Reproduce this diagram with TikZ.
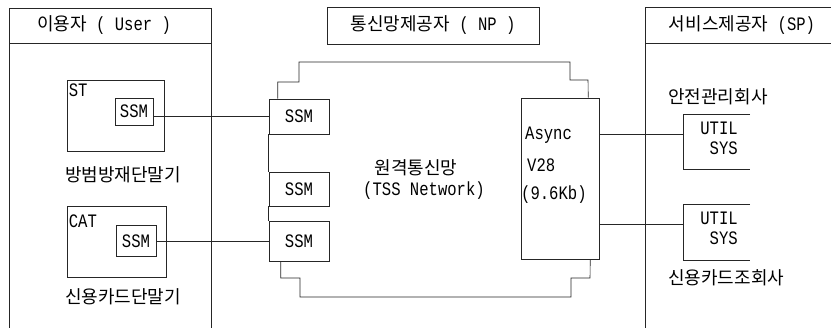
\documentclass[tikz,border=0pt]{standalone}
\usepackage{fontspec}
\setmainfont[FakeStretch=0.82]{Liberation Mono}
\newfontfamily\kr{Noto Sans CJK KR}
\newcommand{\hangul}[1]{{\kr\fontsize{18}{20}\selectfont #1}}
\usetikzlibrary{positioning}

\begin{document}
\begin{tikzpicture}[x=1pt, y=-1pt,
  wire/.style={draw=black!85, line width=0.6pt},
  box/.style={wire, inner sep=0pt},
  ssm/.style={wire, inner sep=0pt, font=\fontsize{19}{20}\selectfont},
  kor/.style={inner sep=0pt, font=\kr\fontsize{18}{20}\selectfont},
  tag/.style={inner sep=0pt, font=\fontsize{19}{20}\selectfont}]
  \useasboundingbox (0,0) rectangle (831,328);

  % user
  \draw[wire] (9,328) -- (9,8) -- (211,8) -- (211,328);
  \draw[wire] (9,43) -- (211,43);
  \node[tag] (userhd) at (104,25) {\hangul{이용자} ( User )};
  \node[box, minimum width=97pt, minimum height=71pt] (stbox) at (115.5,115.5) {};
  \node[tag, anchor=north west, xshift=2pt, yshift=-4pt] (stlbl) at (stbox.north west) {ST};
  \node[ssm, minimum width=38pt, minimum height=27pt] (ssmA) at (134,111.5) {SSM};
  \node[kor, anchor=west] (alarm) at (65,175) {방범방재단말기};
  \node[box, minimum width=99pt, minimum height=71pt] (catbox) at (116.5,241.5) {};
  \node[tag, anchor=north west, xshift=2pt, yshift=-9pt] (catlbl) at (catbox.north west) {CAT};
  \node[ssm, minimum width=40pt, minimum height=31pt] (ssmB) at (136,241) {SSM};
  \node[kor, anchor=west] (card) at (65,297) {신용카드단말기};

  % network provider
  \node[box, minimum width=212pt, minimum height=37pt, font=\fontsize{19}{20}\selectfont] (nphd) at (433,25.5) {\hangul{통신망제공자} ( NP )};
  \node[ssm, minimum width=60pt, minimum height=35pt] (netA) at (299,116.5) {SSM};
  \node[ssm, minimum width=60pt, minimum height=34pt] (netB) at (299,189) {SSM};
  \node[ssm, minimum width=60pt, minimum height=40pt] (netC) at (299,241) {SSM};
  \node[kor] (tssname) at (416,168) {원격통신망};
  \node[tag] (tsssub) at (424,191) {(TSS Network)};
  \node[box, minimum width=78pt, minimum height=161pt] (async) at (560,178.5) {};
  \node[tag, anchor=west] (asynclbl) at (525,135) {Async};
  \node[tag, anchor=west] (v28lbl) at (527,165) {V28};
  \node[tag, anchor=west] (ratelbl) at (521,195) {(9.6Kb)};
  \draw[wire] ([xshift=9pt]netA.north west) |- (299,82) |- (570,62) |- (588,80)
    -- ([xshift=-11pt]async.north east);
  \draw[wire] ([xshift=12pt]netC.south west) |- (300,278) |- (571,297) |- (590,278)
    -- ([xshift=-9pt]async.south east);
  \draw[wire] (netA.south west) -- (netB.north west);
  \draw[wire] (netB.south west) -- (netC.north west);

  % service provider
  \draw[wire] (645,328) -- (645,7) -- (831,7);
  \draw[wire] (645,43) -- (831,43);
  \node[tag] (sphd) at (742,25) {\hangul{서비스제공자} (SP)};
  \node[kor, anchor=west] (safety) at (668,97) {안전관리회사};
  \node[inner sep=0pt, minimum width=67pt, minimum height=54pt] (utilA) at (716.5,142) {};
  \node[tag, align=right] (utilAtxt) at (719,138) {UTIL\\SYS};
  \node[inner sep=0pt, minimum width=67pt, minimum height=55pt] (utilB) at (716.5,232.5) {};
  \node[tag, align=right] (utilBtxt) at (719,228) {UTIL\\SYS};
  \node[kor, anchor=west] (cardco) at (668,278) {신용카드조회사};
  \draw[wire] (utilA.north east) -- (utilA.north west) -- (utilA.south west) -- (utilA.south east);
  \draw[wire] (utilB.north east) -- (utilB.north west) -- (utilB.south west) -- (utilB.south east);

  % links
  \draw[wire] (ssmA.east |- netA.west) -- (netA.west);
  \draw[wire] (ssmB.east) -- (ssmB.east -| netC.west);
  \draw[wire] ([yshift=8pt]utilA.west -| async.east) -- ([yshift=8pt]utilA.west);
  \draw[wire] ([yshift=8.5pt]utilB.west -| async.east) -- ([yshift=8.5pt]utilB.west);
\end{tikzpicture}
\end{document}
